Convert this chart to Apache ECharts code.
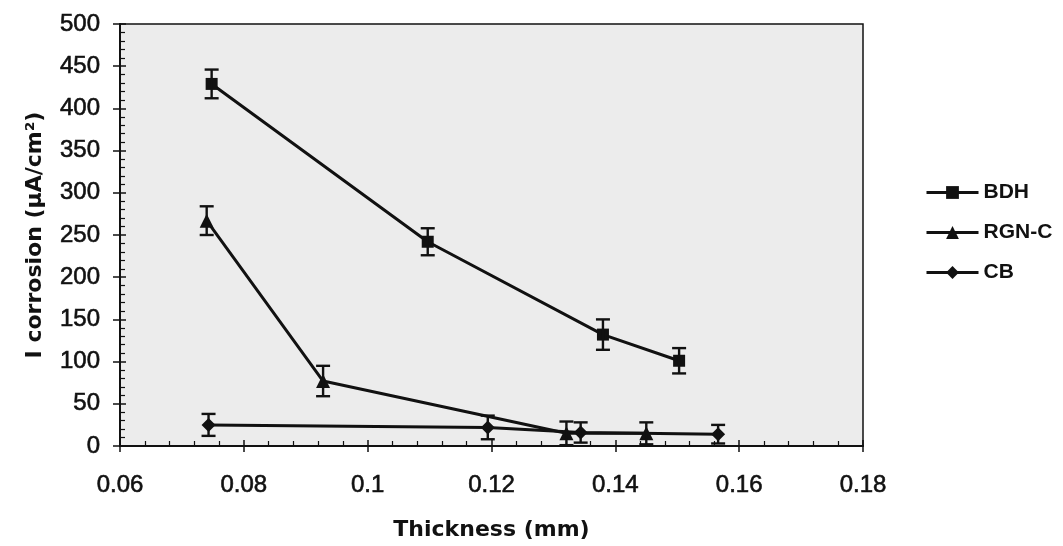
<!DOCTYPE html>
<html>
<head>
<meta charset="utf-8">
<script src="https://cdn.jsdelivr.net/npm/echarts@6/dist/echarts.min.js"></script>
<style>
  html, body { margin: 0; padding: 0; background: #ffffff; }
  #chart { width: 1063px; height: 546px; }
</style>
</head>
<body>
<div id="chart"></div>
<script>
// Corrosion current density versus coating thickness, three coating types
const seriesNames = ['BDH', 'RGN-C', 'CB'];

const bdhThickness = [0.0748, 0.1097, 0.1380, 0.1503];
const bdhCurrent   = [429, 242, 132, 101];
const bdhError     = [17, 16, 18, 15];

const rgnThickness = [0.0740, 0.0928, 0.1321, 0.1450];
const rgnCurrent   = [267, 77, 15, 15];
const rgnError     = [17, 18, 14, 13];

const cbThickness  = [0.0743, 0.1194, 0.1344, 0.1566];
const cbCurrent    = [25, 22, 16, 14];
const cbError      = [13, 14, 12, 11];

const xTicks = { min: 0.06, max: 0.18, step: 0.02 };
const yTicks = { min: 0, max: 500, step: 50 };

const INK = '#111111';

function pairs(xs, ys) { return xs.map((x, i) => [x, ys[i]]); }
function triples(xs, ys, es) { return xs.map((x, i) => [x, ys[i], es[i]]); }

const lineSeries = (name, xs, ys, symbol, size) => ({
  name: name,
  type: 'line',
  data: pairs(xs, ys),
  symbol: symbol,
  symbolSize: size,
  showAllSymbol: true,
  z: 3,
  itemStyle: { color: INK },
  lineStyle: { color: INK, width: 3 }
});

// vertical error bar with caps
function errorBarSeries(name, xs, ys, es) {
  return {
    name: name,
    type: 'custom',
    data: triples(xs, ys, es),
    encode: { x: 0, y: 1 },
    z: 4,
    silent: true,
    renderItem: function (params, api) {
      const x = api.value(0), y = api.value(1), e = api.value(2);
      const top = api.coord([x, y + e]);
      const bot = api.coord([x, y - e]);
      const half = 7;
      const st = { stroke: INK, lineWidth: 2.4 };
      return {
        type: 'group',
        children: [
          { type: 'line', shape: { x1: top[0], y1: top[1], x2: bot[0], y2: bot[1] }, style: st },
          { type: 'line', shape: { x1: top[0] - half, y1: top[1], x2: top[0] + half, y2: top[1] }, style: st },
          { type: 'line', shape: { x1: bot[0] - half, y1: bot[1], x2: bot[0] + half, y2: bot[1] }, style: st }
        ]
      };
    }
  };
}

const labelFont = {
  color: INK, fontFamily: 'Liberation Sans', fontSize: 24,
  textBorderColor: INK, textBorderWidth: 0.6
};
const titleFont = { color: INK, fontFamily: 'DejaVu Sans', fontWeight: 'bold', fontSize: 22 };

const chart = echarts.init(document.getElementById('chart'), null, { renderer: 'canvas' });
chart.setOption({
  backgroundColor: '#ffffff',
  animation: false,
  grid: {
    left: 120, right: 200, top: 24, bottom: 98,
    show: true, backgroundColor: '#ececec', borderColor: INK, borderWidth: 1.5
  },
  legend: {
    data: seriesNames,
    orient: 'vertical',
    left: 920, top: 177,
    itemWidth: 52, itemHeight: 16, itemGap: 19,
    lineStyle: { width: 3 },
    textStyle: { color: INK, fontFamily: 'Liberation Sans', fontWeight: 'bold', fontSize: 21 }
  },
  xAxis: [{
    type: 'value',
    min: xTicks.min, max: xTicks.max, interval: xTicks.step,
    name: 'Thickness (mm)', nameLocation: 'middle', nameGap: 73,
    nameTextStyle: titleFont,
    axisLine: { show: true, lineStyle: { color: INK, width: 2 } },
    axisTick: { show: true, inside: true, length: 6, lineStyle: { color: INK, width: 1.5 } },
    minorTick: { show: true, splitNumber: 5, length: 5, lineStyle: { color: INK, width: 1.2 } },
    splitLine: { show: false },
    axisLabel: Object.assign({ margin: 27, formatter: v => String(+v.toFixed(2)) }, labelFont)
  }, {
    type: 'value', position: 'bottom',
    min: xTicks.min, max: xTicks.max, interval: xTicks.step,
    axisLine: { show: false },
    axisTick: { show: true, inside: false, length: 6, lineStyle: { color: INK, width: 1.5 } },
    axisLabel: { show: false }, splitLine: { show: false }
  }],
  yAxis: [{
    type: 'value',
    min: yTicks.min, max: yTicks.max, interval: yTicks.step,
    name: 'I corrosion (μA/cm²)', nameLocation: 'middle', nameGap: 74, nameRotate: 90,
    nameTextStyle: titleFont,
    axisLine: { show: true, lineStyle: { color: INK, width: 2 } },
    axisTick: { show: true, inside: true, length: 6, lineStyle: { color: INK, width: 1.5 } },
    minorTick: { show: true, splitNumber: 5, length: 5, lineStyle: { color: INK, width: 1.2 } },
    splitLine: { show: false },
    axisLabel: Object.assign({ margin: 20 }, labelFont)
  }, {
    type: 'value', position: 'left',
    min: yTicks.min, max: yTicks.max, interval: yTicks.step,
    axisLine: { show: false },
    axisTick: { show: true, inside: false, length: 7, lineStyle: { color: INK, width: 1.5 } },
    axisLabel: { show: false }, splitLine: { show: false }
  }],
  series: [
    lineSeries('BDH', bdhThickness, bdhCurrent, 'rect', 12),
    lineSeries('RGN-C', rgnThickness, rgnCurrent, 'triangle', 14),
    lineSeries('CB', cbThickness, cbCurrent, 'diamond', 14),
    errorBarSeries('BDH', bdhThickness, bdhCurrent, bdhError),
    errorBarSeries('RGN-C', rgnThickness, rgnCurrent, rgnError),
    errorBarSeries('CB', cbThickness, cbCurrent, cbError)
  ]
});
</script>
</body>
</html>
